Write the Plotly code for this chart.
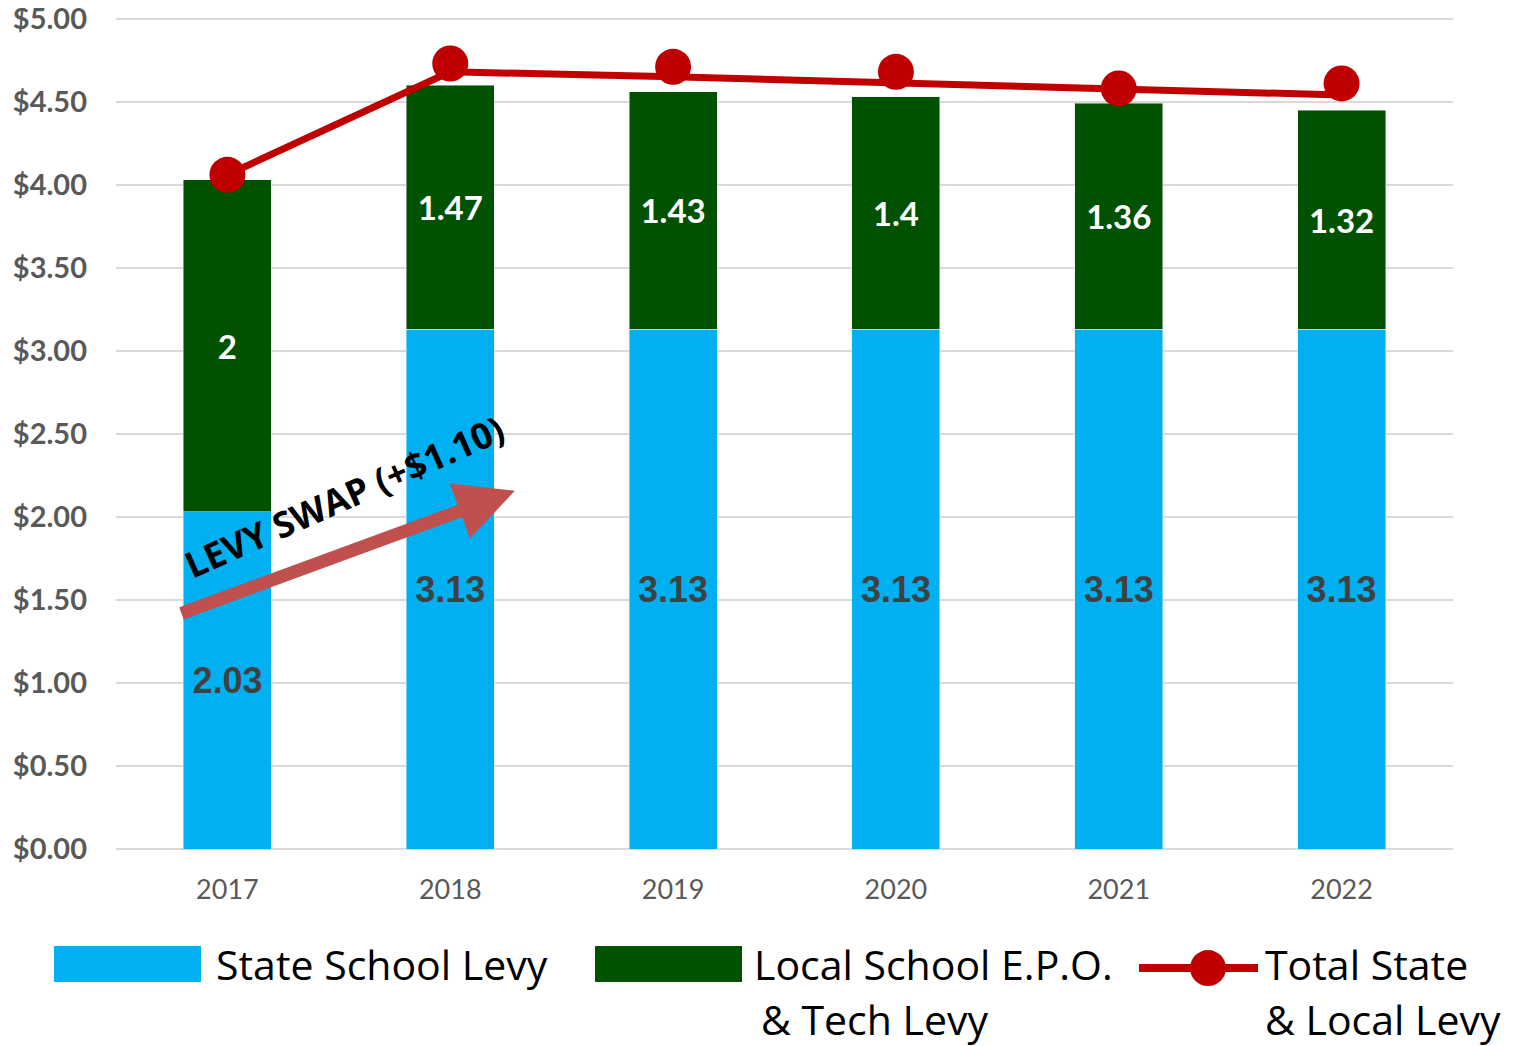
import plotly.graph_objects as go

years = ["2017", "2018", "2019", "2020", "2021", "2022"]
state_levy = [2.03, 3.13, 3.13, 3.13, 3.13, 3.13]
local_levy = [2, 1.47, 1.43, 1.4, 1.36, 1.32]
total_line = [4.06, 4.68, 4.65, 4.61, 4.58, 4.54]
total_markers = [4.06, 4.73, 4.71, 4.68, 4.58, 4.61]
y_ticks = [0, 0.5, 1, 1.5, 2, 2.5, 3, 3.5, 4, 4.5, 5]
y_tick_labels = ["$%.2f" % v for v in y_ticks]

BLUE = "#00B0F0"
GREEN = "#005100"
RED = "#C00000"
ARROW = "#C0504D"
FONT = "Lato, 'Open Sans', sans-serif"
LEG_FONT = "'Open Sans', Lato, sans-serif"

fig = go.Figure()
fig.add_trace(go.Bar(
    x=years, y=state_levy, name="State School Levy", marker_color=BLUE,
    text=[str(v) for v in state_levy], textposition="inside", insidetextanchor="middle",
    textfont=dict(family="'Liberation Sans', Arial, sans-serif", size=36, color="#404040", weight="bold"),
    showlegend=False,
))
fig.add_trace(go.Bar(
    x=years, y=local_levy, name="Local School E.P.O. & Tech Levy", marker_color=GREEN,
    text=[str(v) for v in local_levy], textposition="inside", insidetextanchor="middle",
    textfont=dict(family=FONT, size=33, color="white", weight="bold"),
    showlegend=False,
))
fig.add_trace(go.Scatter(
    x=years, y=total_line, mode="lines", line=dict(color=RED, width=7),
    showlegend=False, hoverinfo="skip",
))
fig.add_trace(go.Scatter(
    x=years, y=total_markers, mode="markers", name="Total State & Local Levy",
    marker=dict(color=RED, size=36), showlegend=False,
))

# page body has an 8px margin; compensate so plot area sits at x 116-1453, y 19-849
fig.update_layout(
    barmode="stack", bargap=0.605,
    width=1522, height=1046,
    margin=dict(l=108, r=77, t=9, b=205),
    plot_bgcolor="white", paper_bgcolor="white",
    font=dict(family=FONT),
    showlegend=False,
)
fig.update_yaxes(
    range=[0, 5.01], tickvals=y_ticks, ticktext=y_tick_labels,
    showgrid=True, gridcolor="#D9D9D9", gridwidth=2,
    zeroline=True, zerolinecolor="#D9D9D9", zerolinewidth=2,
    tickfont=dict(family=FONT, size=29, color="#595959", weight="bold"),
    ticklabelstandoff=28, showline=False, automargin=False,
    ticklabeloverflow="allow",
)
fig.update_xaxes(
    tickfont=dict(family=FONT, size=27, color="#595959"),
    ticklabelstandoff=22, showline=False, automargin=False,
)

# Levy swap arrow + text
fig.add_annotation(
    x=1.29, y=2.157, ax=-0.213, ay=1.416, xref="x", yref="y", axref="x", ayref="y",
    showarrow=True, arrowhead=2, arrowwidth=13, arrowsize=0.9, arrowcolor=ARROW, text="",
)
fig.add_annotation(
    x=0.525, y=2.12, xref="x", yref="y", text="LEVY SWAP (+$1.10)", showarrow=False,
    textangle=-24, font=dict(family=LEG_FONT, size=36, color="black", weight="bold"),
)

# Manual legend (paper coords derived from page pixels)
PLOT_H = 830.0 * 5.01 / 5.0

def px_x(p):
    return (p - 116) / 1337.0

def px_y(p):
    return (849 - p) / PLOT_H

fig.add_shape(type="rect", xref="paper", yref="paper", x0=px_x(54), x1=px_x(201), y0=px_y(982), y1=px_y(946),
              fillcolor=BLUE, line=dict(width=0))
fig.add_shape(type="rect", xref="paper", yref="paper", x0=px_x(595), x1=px_x(742), y0=px_y(982), y1=px_y(946),
              fillcolor=GREEN, line=dict(width=0))
fig.add_shape(type="line", xref="paper", yref="paper", x0=px_x(1139), x1=px_x(1258), y0=px_y(968), y1=px_y(968),
              line=dict(color=RED, width=8))
fig.add_shape(type="circle", xref="paper", yref="paper", x0=px_x(1190), x1=px_x(1226), y0=px_y(986), y1=px_y(950),
              fillcolor=RED, line=dict(width=0))

leg_font = dict(family=LEG_FONT, size=41, color="black")
for txt, xp, yp in [("State School Levy", 214, 964), ("Local School E.P.O.", 752, 964), ("& Tech Levy", 759, 1019),
                    ("Total State", 1263, 964), ("& Local Levy", 1263, 1019)]:
    fig.add_annotation(x=px_x(xp), y=px_y(yp), xref="paper", yref="paper", text=txt, showarrow=False,
                       xanchor="left", yanchor="middle", font=leg_font)

fig.write_html("out.html")
